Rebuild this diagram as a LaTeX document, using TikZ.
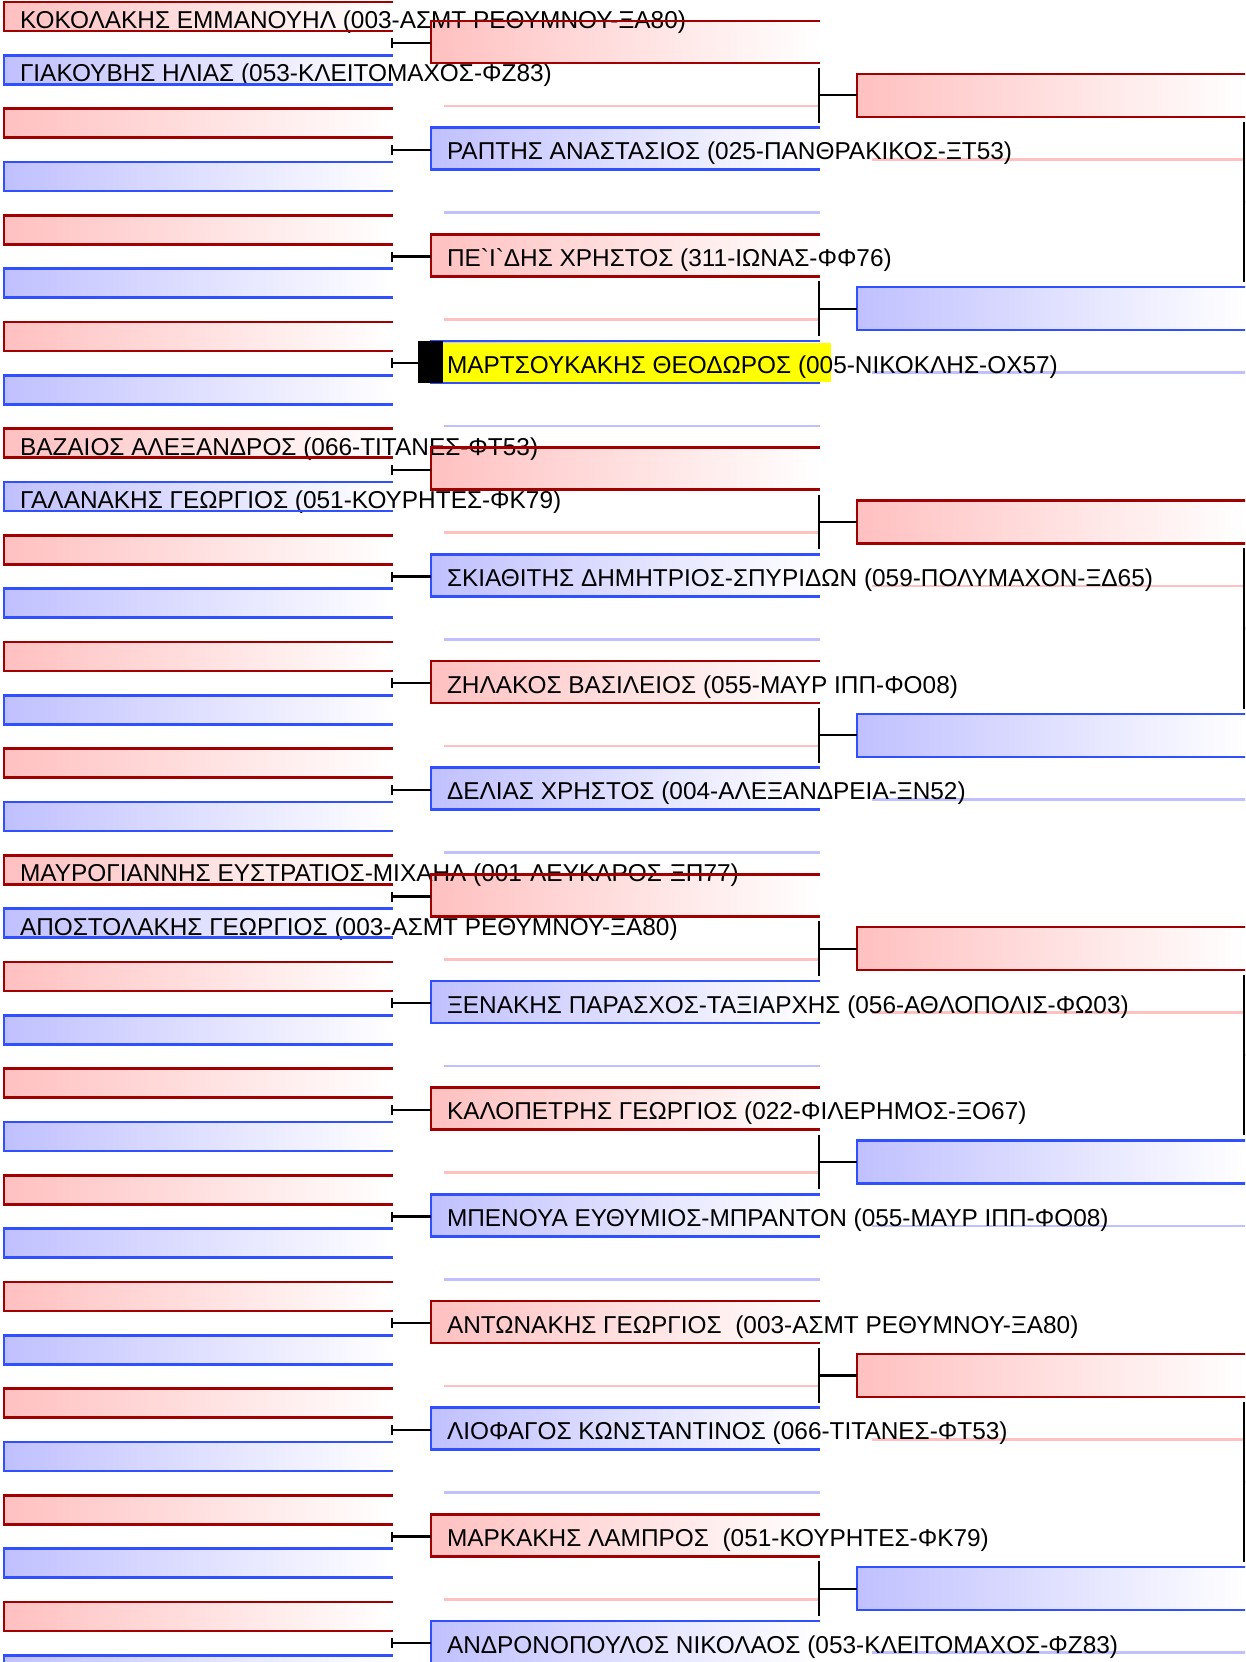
\documentclass[tikz,border=0pt]{standalone}
\usepackage{fontspec}
\setmainfont{Liberation Sans}
\usetikzlibrary{calc}
\definecolor{redline}{HTML}{A00000}
\definecolor{blueline}{HTML}{3050FF}
\definecolor{redfill}{HTML}{FFC0C0}
\definecolor{bluefill}{HTML}{C0C0FF}
\definecolor{hilite}{HTML}{FFFF00}
\tikzset{
  cell/.style={rectangle, inner sep=0pt, outer sep=0pt, minimum width=389pt},
  onecell/.style={cell, minimum height=29pt, anchor=north west},
  twocell/.style={cell, minimum height=42pt, anchor=west},
  threecell/.style={cell, minimum height=43pt, anchor=west},
  cellcol/.style={left color=#1, right color=white},
  edge/.style={draw=#1, line width=2.5pt},
  conn/.style={draw=black, line width=2.3pt},
  lbl/.style={font=\fontsize{24.4}{28}\selectfont, anchor=base west, inner sep=0pt, outer sep=0pt, text=black},
}
\begin{document}
\begin{tikzpicture}[x=1pt,y=-1pt]
\useasboundingbox (0,0) rectangle (1245,1662);
\clip (0,0) rectangle (1245,1662);
% ---------- cell fills ----------
\foreach \m in {0,...,15}{
  \node[onecell, cellcol=redfill] (a\m) at (4,{2+320/3*\m}) {};
  \node[onecell, cellcol=bluefill] (b\m) at (4,{2+320/3*\m+160/3}) {};
}
\foreach \k in {0,...,15}{
  \ifodd\k \def\cc{bluefill}\else\def\cc{redfill}\fi
  \node[twocell, cellcol=\cc] (c\k) at (431,{42+320/3*\k}) {};
}
\foreach \k in {0,...,7}{
  \ifodd\k \def\cc{bluefill}\else\def\cc{redfill}\fi
  \node[threecell, cellcol=\cc] (d\k) at (857,{95.3+640/3*\k}) {};
}
% ---------- faint lines ----------
\foreach \k in {0,...,15}{
  \ifodd\k \def\cc{bluefill}\else\def\cc{redfill}\fi
  \draw[edge=\cc] ([xshift=13pt,yshift=-64pt]c\k.west) -- ([yshift=-64pt]c\k.east);
}
\foreach \k in {0,...,7}{
  \ifodd\k \def\cc{bluefill}\else\def\cc{redfill}\fi
  \draw[edge=\cc] ([xshift=15pt,yshift=-64pt]d\k.west) -- ([yshift=-64pt]d\k.east);
}
% ---------- highlight ----------
\fill[hilite] ([xshift=12pt,yshift=-1.5pt]c3.north west) rectangle ([xshift=11pt,yshift=1.5pt]c3.south east);
% ---------- texts ----------
\node[lbl] (n0) at ([xshift=16pt,yshift=-26.5pt]a0.north west) {ΚΟΚΟΛΑΚΗΣ ΕΜΜΑΝΟΥΗΛ (003-ΑΣΜΤ ΡΕΘΥΜΝΟΥ-ΞΑ80)};
\node[lbl] (n1) at ([xshift=16pt,yshift=-26.5pt]b0.north west) {ΓΙΑΚΟΥΒΗΣ ΗΛΙΑΣ (053-ΚΛΕΙΤΟΜΑΧΟΣ-ΦΖ83)};
\node[lbl] (n8) at ([xshift=16pt,yshift=-26.5pt]a4.north west) {ΒΑΖΑΙΟΣ ΑΛΕΞΑΝΔΡΟΣ (066-ΤΙΤΑΝΕΣ-ΦΤ53)};
\node[lbl] (n9) at ([xshift=16pt,yshift=-26.5pt]b4.north west) {ΓΑΛΑΝΑΚΗΣ ΓΕΩΡΓΙΟΣ (051-ΚΟΥΡΗΤΕΣ-ΦΚ79)};
\node[lbl] (n16) at ([xshift=16pt,yshift=-26.5pt]a8.north west) {ΜΑΥΡΟΓΙΑΝΝΗΣ ΕΥΣΤΡΑΤΙΟΣ-ΜΙΧΑΗΛ (001-ΛΕΥΚΑΡΟΣ-ΞΠ77)};
\node[lbl] (n17) at ([xshift=16pt,yshift=-26.5pt]b8.north west) {ΑΠΟΣΤΟΛΑΚΗΣ ΓΕΩΡΓΙΟΣ (003-ΑΣΜΤ ΡΕΘΥΜΝΟΥ-ΞΑ80)};
\node[lbl] (w1) at ([xshift=16pt,yshift=-11pt]c1.west) {ΡΑΠΤΗΣ ΑΝΑΣΤΑΣΙΟΣ (025-ΠΑΝΘΡΑΚΙΚΟΣ-ΞΤ53)};
\node[lbl] (w2) at ([xshift=16pt,yshift=-11pt]c2.west) {ΠΕ\textasciigrave Ι\textasciigrave ΔΗΣ ΧΡΗΣΤΟΣ (311-ΙΩΝΑΣ-ΦΦ76)};
\node[lbl] (w3) at ([xshift=16pt,yshift=-11pt]c3.west) {ΜΑΡΤΣΟΥΚΑΚΗΣ ΘΕΟΔΩΡΟΣ (005-ΝΙΚΟΚΛΗΣ-ΟΧ57)};
\node[lbl] (w5) at ([xshift=16pt,yshift=-11pt]c5.west) {ΣΚΙΑΘΙΤΗΣ ΔΗΜΗΤΡΙΟΣ-ΣΠΥΡΙΔΩΝ (059-ΠΟΛΥΜΑΧΟΝ-ΞΔ65)};
\node[lbl] (w6) at ([xshift=16pt,yshift=-11pt]c6.west) {ΖΗΛΑΚΟΣ ΒΑΣΙΛΕΙΟΣ (055-ΜΑΥΡ ΙΠΠ-ΦΟ08)};
\node[lbl] (w7) at ([xshift=16pt,yshift=-11pt]c7.west) {ΔΕΛΙΑΣ ΧΡΗΣΤΟΣ (004-ΑΛΕΞΑΝΔΡΕΙΑ-ΞΝ52)};
\node[lbl] (w9) at ([xshift=16pt,yshift=-11pt]c9.west) {ΞΕΝΑΚΗΣ ΠΑΡΑΣΧΟΣ-ΤΑΞΙΑΡΧΗΣ (056-ΑΘΛΟΠΟΛΙΣ-ΦΩ03)};
\node[lbl] (w10) at ([xshift=16pt,yshift=-11pt]c10.west) {ΚΑΛΟΠΕΤΡΗΣ ΓΕΩΡΓΙΟΣ (022-ΦΙΛΕΡΗΜΟΣ-ΞΟ67)};
\node[lbl] (w11) at ([xshift=16pt,yshift=-11pt]c11.west) {ΜΠΕΝΟΥΑ ΕΥΘΥΜΙΟΣ-ΜΠΡΑΝΤΟΝ (055-ΜΑΥΡ ΙΠΠ-ΦΟ08)};
\node[lbl] (w12) at ([xshift=16pt,yshift=-11pt]c12.west) {ΑΝΤΩΝΑΚΗΣ ΓΕΩΡΓΙΟΣ\ \ (003-ΑΣΜΤ ΡΕΘΥΜΝΟΥ-ΞΑ80)};
\node[lbl] (w13) at ([xshift=16pt,yshift=-11pt]c13.west) {ΛΙΟΦΑΓΟΣ ΚΩΝΣΤΑΝΤΙΝΟΣ (066-ΤΙΤΑΝΕΣ-ΦΤ53)};
\node[lbl] (w14) at ([xshift=16pt,yshift=-11pt]c14.west) {ΜΑΡΚΑΚΗΣ ΛΑΜΠΡΟΣ\ \ (051-ΚΟΥΡΗΤΕΣ-ΦΚ79)};
\node[lbl] (w15) at ([xshift=16pt,yshift=-11pt]c15.west) {ΑΝΔΡΟΝΟΠΟΥΛΟΣ ΝΙΚΟΛΑΟΣ (053-ΚΛΕΙΤΟΜΑΧΟΣ-ΦΖ83)};
% ---------- borders ----------
\foreach \m in {0,...,15}{
  \draw[edge=redline] (a\m.north east) -- (a\m.north west) -- (a\m.south west) -- (a\m.south east);
  \draw[edge=blueline] (b\m.north east) -- (b\m.north west) -- (b\m.south west) -- (b\m.south east);
}
\foreach \k in {0,...,15}{
  \ifodd\k \def\ec{blueline}\else\def\ec{redline}\fi
  \draw[edge=\ec] (c\k.north east) -- (c\k.north west) -- (c\k.south west) -- (c\k.south east);
}
\foreach \k in {0,...,7}{
  \ifodd\k \def\ec{blueline}\else\def\ec{redline}\fi
  \draw[edge=\ec] (d\k.north east) -- (d\k.north west) -- (d\k.south west) -- (d\k.south east);
}
% ---------- connectors ----------
\foreach \m in {0,...,15}{
  \coordinate (q\m) at ($(a\m.south east)!0.5!(b\m.north east)+(-1,0)$);
  \draw[conn] ($(q\m)+(0,-5)$) -- ($(q\m)+(0,5)$);
  \draw[conn] (q\m) -- (c\m.west |- q\m);
}
\foreach \j in {0,...,7}{
  \pgfmathtruncatemacro\ka{2*\j}
  \pgfmathtruncatemacro\kb{2*\j+1}
  \coordinate (p\j) at ($(c\ka.south east)!0.5!(c\kb.north east)+(-1,0)$);
  \draw[conn] ($(c\ka.south east)+(-1,5)$) -- ($(c\kb.north east)+(-1,-5)$);
  \draw[conn] (p\j) -- (d\j.west |- p\j);
}
\foreach \j in {0,...,3}{
  \pgfmathtruncatemacro\ka{2*\j}
  \pgfmathtruncatemacro\kb{2*\j+1}
  \coordinate (s\j) at ($(d\ka.south east)!0.5!(d\kb.north east)+(-2,0)$);
  \coordinate (e\j) at ($(s\j)+(40,0)$);
  \draw[conn] ($(d\ka.south east)+(-2,5)$) -- ($(d\kb.north east)+(-2,-5)$);
  \draw[conn] (s\j) -- (e\j);
}
% ---------- marker ----------
\fill[black] ([xshift=-13pt]c3.north west) rectangle ([xshift=12pt]c3.south west);
\end{tikzpicture}
\end{document}
